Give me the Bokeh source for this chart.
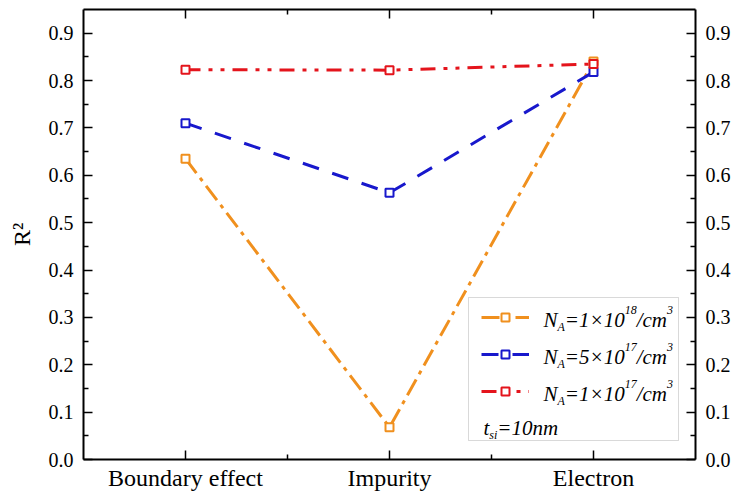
from bokeh.embed import file_html
from bokeh.models import (BoxAnnotation, FixedTicker, Label, Legend, LegendItem,
                          LinearAxis, NumeralTickFormatter, Range1d)
from bokeh.plotting import figure
from bokeh.resources import INLINE

# data
categories = ["Boundary effect", "Impurity", "Electron"]
r2_1e18 = [0.635, 0.068, 0.840]
r2_5e17 = [0.710, 0.563, 0.818]
r2_1e17 = [0.823, 0.822, 0.835]
doping_coef = ["1", "5", "1"]
doping_exp = ["18", "17", "17"]
y_ticks = [0.0, 0.1, 0.2, 0.3, 0.4, 0.5, 0.6, 0.7, 0.8, 0.9]
y_minor = [0.05, 0.15, 0.25, 0.35, 0.45, 0.55, 0.65, 0.75, 0.85]

FONT = "Liberation Serif"
FRAME_W, FRAME_H = 612, 450
X0, X1 = 0.5, len(categories) + 0.5
Y0, Y1 = 0.0, 0.95

xs = list(range(1, len(categories) + 1))

p = figure(frame_width=FRAME_W, frame_height=FRAME_H,
           x_range=Range1d(X0, X1), y_range=Range1d(Y0, Y1),
           min_border_left=83, min_border_right=42, min_border_top=9, min_border_bottom=39,
           output_backend="svg", toolbar_location=None, tools="")
p.outline_line_color = None
p.xgrid.visible = False
p.ygrid.visible = False

series = [
    (r2_1e18, "#F0901E", "18 6 4 6"),
    (r2_5e17, "#1818CC", "17 14"),
    (r2_1e17, "#E4141C", "15 8 4 8 4 8"),
]
items = []
for vals, color, dash in series:
    ln = p.line(xs, vals, line_color=color, line_width=3, line_dash=dash)
    mk = p.scatter(xs, vals, marker="square", size=8, fill_color="white",
                   line_color=color, line_width=2)
    items.append(LegendItem(label=" ", renderers=[ln, mk]))

x_ticker = FixedTicker(ticks=xs, minor_ticks=[1.5, 2.5])
y_ticker = FixedTicker(ticks=y_ticks, minor_ticks=y_minor)


def style_axis(ax, size):
    ax.axis_line_width = 2
    ax.major_tick_line_width = 1.5
    ax.minor_tick_line_width = 1.5
    ax.major_tick_in = 9
    ax.major_tick_out = 0
    ax.minor_tick_in = 5
    ax.minor_tick_out = 0
    ax.major_label_text_font = FONT
    ax.major_label_text_font_size = size
    ax.major_label_text_color = "black"


xa = p.xaxis[0]
xa.ticker = x_ticker
xa.major_label_overrides = {i: c for i, c in zip(xs, categories)}
style_axis(xa, "24px")
xa.major_label_standoff = 5

ya = p.yaxis[0]
ya.ticker = y_ticker
ya.formatter = NumeralTickFormatter(format="0.0")
style_axis(ya, "20px")
ya.major_label_standoff = 10
ya.axis_label = "R²"
ya.axis_label_text_font = FONT
ya.axis_label_text_font_style = "normal"
ya.axis_label_text_font_size = "24px"
ya.axis_label_text_color = "black"
ya.axis_label_standoff = 11

ra = LinearAxis(ticker=y_ticker, formatter=NumeralTickFormatter(format="0.0"))
style_axis(ra, "20px")
ra.major_label_standoff = 10
p.add_layout(ra, "right")

ta = LinearAxis(ticker=x_ticker)
style_axis(ta, "0px")
ta.major_label_standoff = 0
ta.major_label_text_alpha = 0
p.add_layout(ta, "above")


# helpers: pixels from the frame's bottom-left corner -> data units
def dx(px):
    return X0 + px * (X1 - X0) / FRAME_W


def dy(px):
    return Y0 + px * (Y1 - Y0) / FRAME_H


# legend frame
p.add_layout(BoxAnnotation(left=dx(385), right=dx(595), bottom=dy(19), top=dy(162),
                           fill_color="white", fill_alpha=1,
                           line_color="#808080", line_width=1))

legend = Legend(items=items, location=(398, 58), glyph_width=48, glyph_height=20,
                label_height=20, spacing=17, padding=0, margin=0, label_standoff=0,
                label_text_alpha=0, label_text_font_size="10px",
                border_line_alpha=0, background_fill_alpha=0)
p.add_layout(legend)

WIDTHS = {"N": .667, "A": .611, "=": .675, "×": .675, "/": .278, "c": .444,
          "m": .722, "t": .278, "s": .389, "i": .278, "n": .5}


def rich_text(fx, fy, parts):
    for txt, kind in parts:
        size = 21 if kind == "n" else 12
        shift = {"n": 0, "sub": -7, "sup": 10}[kind]
        p.add_layout(Label(x=dx(fx), y=dy(fy + shift), text=txt, text_font=FONT,
                           text_font_style="italic", text_font_size=f"{size}px",
                           text_color="black", text_baseline="alphabetic",
                           text_align="left"))
        fx += sum(WIDTHS.get(ch, .5) for ch in txt) * size


for i, (coef, exp) in enumerate(zip(doping_coef, doping_exp)):
    rich_text(460, 140 - 37 * i, [("N", "n"), ("A", "sub"), (f"={coef}×10", "n"),
                                  (exp, "sup"), ("/cm", "n"), ("3", "sup")])
rich_text(400, 32, [("t", "n"), ("si", "sub"), ("=10nm", "n")])

open("out.html", "w").write(file_html(p, INLINE))
